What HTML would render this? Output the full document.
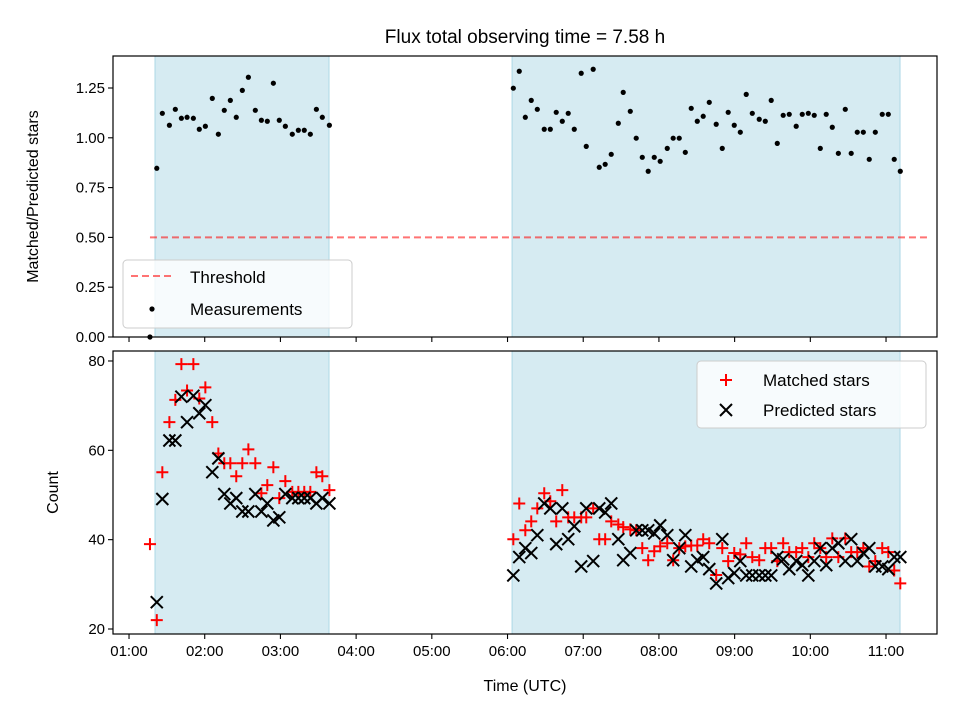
<!DOCTYPE html>
<html><head><meta charset="utf-8"><style>
html,body{margin:0;padding:0;background:#fff;}
svg{display:block;font-family:"Liberation Sans","DejaVu Sans",sans-serif;}
</style></head><body>
<svg id="chart" width="960" height="720" viewBox="0 0 960 720" xmlns="http://www.w3.org/2000/svg"></svg>
<script>
// times in minutes since 00:00 UTC
const times1 = [76.6,82,86.4,92,96.7,101.5,106,111,115.7,120.5,126,130.8,135.5,140.3,145,149.8,154.6,160.1,164.9,169.6,174.4,179.1,183.9,189.4,194.2,198.9,203.7,208.5,213.2,218.8];
const times2 = [364.6,369.3,374.1,378.8,383.6,389.1,393.9,398.6,403.4,408.1,412.9,418.4,422.4,427.9,432.7,437.4,442.2,447.8,451.7,457.3,462.0,466.8,471.5,476.3,481.0,486.6,491.3,496.1,500.9,505.6,510.4,515.1,519.9,525.4,530.2,534.9,539.7,544.5,549.2,554.0,559.5,564.3,569.0,573.8,578.5,583.3,588.8,593.6,598.4,603.1,607.9,612.6,617.4,622.2,627.7,632.4,637.2,642.0,646.7,651.5,657.0,661.8,666.5,671.3];
const ratio1 = [0,0.847,1.123,1.063,1.143,1.098,1.103,1.098,1.043,1.058,1.198,1.018,1.138,1.188,1.103,1.238,1.304,1.138,1.088,1.083,1.274,1.088,1.058,1.018,1.038,1.038,1.018,1.143,1.103,1.063];
const ratio2 = [1.249,1.334,1.103,1.188,1.143,1.043,1.043,1.128,1.083,1.123,1.043,1.324,0.957,1.344,0.852,0.867,0.917,1.073,1.228,1.133,0.998,0.902,0.832,0.902,0.882,0.947,0.998,0.998,0.927,1.148,1.083,1.108,1.178,1.068,0.947,1.128,1.063,1.028,1.218,1.123,1.093,1.083,1.188,0.972,1.113,1.118,1.058,1.118,1.123,1.113,0.947,1.118,1.053,0.922,1.143,0.922,1.028,1.028,0.892,1.028,1.118,1.118,0.892,0.832];
const matched1 = [39,22,55.1,66.3,71.3,79.3,73.4,79.3,71.6,74.1,66.3,59.3,57.1,57.1,54.2,57.1,60.2,57.1,50.4,52.2,56.2,49.3,53.1,50.7,50.7,50.7,50.7,55.1,54.2,51.1];
const predicted1 = [null,26,49.1,62.2,62.2,72,66.3,72.2,68.3,70.1,55.1,58.2,50.2,48.1,49.3,46.3,46.3,50.2,46.3,48.1,44.3,45,50.2,49.3,49.3,49.3,49.3,48.1,49.3,48.1];
const matched2 = [40.1,48.1,42.1,44.1,47.0,50.4,48.6,44.1,51.1,45.0,45,45,45,47,40.1,40.1,44.1,43.4,42.8,42.3,42.1,38.1,35.4,37.4,38.5,39.2,35.4,38.1,38.5,38.7,38.7,40.1,39.2,32.1,38.1,35.2,37,36.7,39.2,36.1,35.4,38.1,38.1,35.2,39.2,37.2,37.2,38.1,36.1,39.2,38.1,36.1,40.3,36.1,40.3,37.2,37.2,38.1,34.0,35.2,38.1,37.2,33.1,30.2];
const predicted2 = [32,36.1,38.1,37,41,48.1,47,39,47,40.1,43,34,47,35.2,47,46.1,48.1,40.1,35.4,37,42.1,42.1,42.1,41.4,43.2,41,35.4,38.1,41,34,35.4,36.1,33.4,30.2,40.1,31.4,32.5,35.2,32,32,32,32,32,36.1,35.6,33.4,35.2,34.3,32,35.2,38.1,34.3,38.1,39.2,35.2,40.1,35.2,37,38.1,34,34,33.4,36.1,36.1];
const spans = [[80.6,218.5],[363.6,671.1]];
const threshold = [0.5];
const thresholdRange = [76.6,694];
const xTicks = [60,120,180,240,300,360,420,480,540,600,660];
const xTickLabels = ["01:00","02:00","03:00","04:00","05:00","06:00","07:00","08:00","09:00","10:00","11:00"];
const topTicks = [0,0.25,0.5,0.75,1.0,1.25];
const topTickLabels = ["0.00","0.25","0.50","0.75","1.00","1.25"];
const botTicks = [20,40,60,80];
const botTickLabels = ["20","40","60","80"];

const L=113,R=937, T1=56,B1=337, T2=351,B2=634;
const xMin=47.3,xMax=700.4;
const X = m => L+(m-xMin)/(xMax-xMin)*(R-L);
const Y1 = v => B1-(v-0)/(1.41-0)*(B1-T1);
const Y2 = v => B2-(v-19.3)/(82.6-19.3)*(B2-T2);
// calibrate: 0 at 337, 1.25 at 88 ; 80 at 361, 20 at 629
const Yt = v => 337 - v*199.2;
const Yb = v => 629 - (v-20)*4.467;

const svg=document.getElementById('chart');
const NS='http://www.w3.org/2000/svg';
function mk(tag,attrs,parent){const e=document.createElementNS(NS,tag);for(const k in attrs)e.setAttribute(k,attrs[k]);(parent||svg).appendChild(e);return e;}

// title
const title=mk('text',{x:525,y:43,'text-anchor':'middle','font-size':19,fill:'#000'});
title.textContent='Flux total observing time = 7.58 h';



function panel(name,T,B,yfn,ticks,labels){
  const g=mk('g',{});
  
  
  spans.forEach((s,i)=>{
    const r=mk('rect',{x:X(s[0]),y:T,width:X(s[1])-X(s[0]),height:B-T,fill:'#add8e6','fill-opacity':0.5,stroke:'#add8e6','stroke-width':1},g);
    
    
  });
  return g;
}
function frame(name,T,B,yfn,ticks,labels,showX){
  const g=mk('g',{});
  
  
  mk('rect',{x:L,y:T,width:R-L,height:B-T,fill:'none',stroke:'#000','stroke-width':1.2},g);
  ticks.forEach((t,i)=>{
    const y=yfn(t);
    mk('line',{x1:L-5,x2:L,y1:y,y2:y,stroke:'#000','stroke-width':1.1},g);
    const tx=mk('text',{x:L-8,y:y+5,'text-anchor':'end','font-size':15,fill:'#000'},g);
    tx.textContent=labels[i];
    
    
  });
  xTicks.forEach((t,i)=>{
    const x=X(t);
    mk('line',{x1:x,x2:x,y1:B,y2:B+5,stroke:'#000','stroke-width':1.1},g);
    if(showX){
      const tx=mk('text',{x:x,y:B+22,'text-anchor':'middle','font-size':15,fill:'#000'},g);
      tx.textContent=xTickLabels[i];
      
      
    }
  });
}
function dot(x,y,p){const c=mk('circle',{cx:x,cy:y,r:2.6,fill:'#000'},p);return c;}
function plus(x,y,p){const e=mk('path',{d:`M${x-6},${y}H${x+6}M${x},${y-6}V${y+6}`,stroke:'#ff0000','stroke-width':2,fill:'none'},p);return e;}
function cross(x,y,p){const e=mk('path',{d:`M${x-6},${y-6}L${x+6},${y+6}M${x-6},${y+6}L${x+6},${y-6}`,stroke:'#000','stroke-width':2,fill:'none'},p);return e;}

// top panel
panel('top-panel-spans',T1,B1);
const th=mk('line',{x1:X(thresholdRange[0]),x2:X(thresholdRange[1]),y1:Yt(threshold[0]),y2:Yt(threshold[0]),stroke:'#ff0000','stroke-opacity':0.55,'stroke-width':2,'stroke-dasharray':'7,4'});


const gTop=mk('g',{});


times1.forEach((t,i)=>dot(X(t),Yt(ratio1[i]),gTop));
times2.forEach((t,i)=>dot(X(t),Yt(ratio2[i]),gTop));
frame('top',T1,B1,Yt,topTicks,topTickLabels,false);

// bottom panel
panel('bottom-panel-spans',T2,B2);
const gM=mk('g',{});


const gP=mk('g',{});


times1.forEach((t,i)=>{plus(X(t),Yb(matched1[i]),gM); if(predicted1[i]!=null) cross(X(t),Yb(predicted1[i]),gP);});
times2.forEach((t,i)=>{plus(X(t),Yb(matched2[i]),gM); cross(X(t),Yb(predicted2[i]),gP);});
frame('bottom',T2,B2,Yb,botTicks,botTickLabels,true);

// axis titles
const yt1=mk('text',{x:0,y:0,'text-anchor':'middle','font-size':16,fill:'#000',transform:`translate(38,${(T1+B1)/2}) rotate(-90)`});
yt1.textContent='Matched/Predicted stars';


const yt2=mk('text',{x:0,y:0,'text-anchor':'middle','font-size':16,fill:'#000',transform:`translate(58,${(T2+B2)/2}) rotate(-90)`});
yt2.textContent='Count';


const xt=mk('text',{x:525,y:691,'text-anchor':'middle','font-size':16,fill:'#000'});
xt.textContent='Time (UTC)';



// legends
const lg1=mk('g',{});


mk('rect',{x:123,y:260,width:229,height:68,rx:4,fill:'#fff','fill-opacity':0.8,stroke:'#ccc','stroke-width':1},lg1);
mk('line',{x1:131,x2:173,y1:276,y2:276,stroke:'#ff0000','stroke-opacity':0.55,'stroke-width':2,'stroke-dasharray':'7,4'},lg1);
let t=mk('text',{x:190,y:283,'font-size':17,fill:'#000'},lg1);t.textContent='Threshold';
mk('circle',{cx:152,cy:309,r:2.6,fill:'#000'},lg1);
t=mk('text',{x:190,y:315,'font-size':17,fill:'#000'},lg1);t.textContent='Measurements';

const lg2=mk('g',{});


mk('rect',{x:697,y:361,width:229,height:67,rx:4,fill:'#fff','fill-opacity':0.8,stroke:'#ccc','stroke-width':1},lg2);
plus(726,380,lg2);
t=mk('text',{x:763,y:386,'font-size':17,fill:'#000'},lg2);t.textContent='Matched stars';
cross(726,410,lg2);
t=mk('text',{x:763,y:416,'font-size':17,fill:'#000'},lg2);t.textContent='Predicted stars';
</script>
</body></html>
